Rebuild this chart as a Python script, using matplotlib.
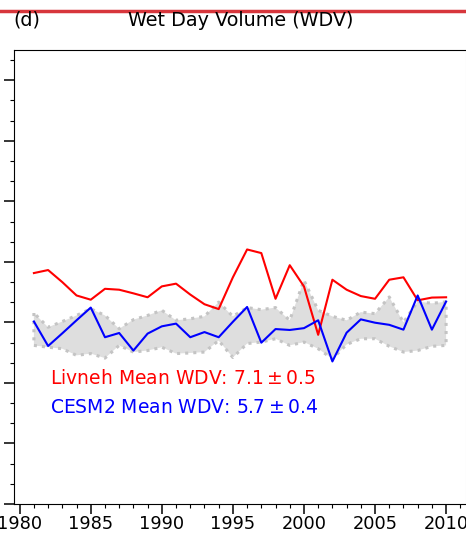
import matplotlib
matplotlib.use("Agg")
import matplotlib.pyplot as plt
from matplotlib.lines import Line2D
from matplotlib.ticker import AutoMinorLocator, MultipleLocator

years = list(range(1981, 2011))

livneh_wdv = [7.63, 7.73, 7.33, 6.89, 6.75, 7.11, 7.08, 6.96, 6.83, 7.19,
              7.28, 6.92, 6.60, 6.44, 7.49, 8.41, 8.29, 6.78, 7.89, 7.19,
              5.59, 7.41, 7.08, 6.87, 6.78, 7.41, 7.49, 6.73, 6.82, 6.83]

cesm2_wdv = [6.03, 5.22, 5.64, 6.07, 6.49, 5.51, 5.65, 5.07, 5.63, 5.87,
             5.96, 5.51, 5.68, 5.51, 6.02, 6.51, 5.33, 5.78, 5.75, 5.81,
             6.07, 4.71, 5.66, 6.10, 5.99, 5.92, 5.76, 6.89, 5.76, 6.69]

# ensemble spread of CESM2
spread_high = [6.31, 5.84, 6.03, 6.23, 6.45, 6.23, 5.79, 6.09, 6.23, 6.40,
               6.07, 6.12, 6.20, 6.67, 6.20, 6.49, 6.42, 6.49, 6.07, 7.39,
               6.40, 6.20, 6.07, 6.34, 6.29, 6.84, 6.00, 6.69, 6.63, 6.68]
spread_low = [5.24, 5.18, 5.13, 4.91, 4.97, 4.82, 5.24, 5.02, 5.07, 5.18,
              4.97, 4.99, 5.02, 5.40, 4.84, 5.30, 5.35, 5.46, 5.24, 5.35,
              5.13, 4.80, 5.27, 5.46, 5.46, 5.21, 5.02, 5.07, 5.21, 5.24]

livneh_label = r"Livneh Mean WDV: $7.1 \pm 0.5$"
cesm2_label = r"CESM2 Mean WDV: $5.7 \pm 0.4$"

fig = plt.figure(figsize=(4.66, 5.40), dpi=100)
ax = fig.add_axes([14 / 466, 36 / 540, 452 / 466, 454 / 540])

ax.fill_between(years, spread_low, spread_high, facecolor="#dedede",
                edgecolor="#c4c4c4", linestyle=":", linewidth=2.2, zorder=1)
ax.plot(years, livneh_wdv, color="red", lw=1.5, zorder=3)
ax.plot(years, cesm2_wdv, color="blue", lw=1.5, zorder=3)

ax.set_xlim(1979.6, 2011.4)
ax.set_ylim(0, 15)
ax.xaxis.set_major_locator(MultipleLocator(5))
ax.xaxis.set_minor_locator(MultipleLocator(1))
ax.yaxis.set_major_locator(MultipleLocator(2))
ax.yaxis.set_minor_locator(AutoMinorLocator(3))
ax.tick_params(which="major", length=7.2, width=1.1, labelsize=12.8, pad=1)
ax.tick_params(which="minor", length=3, width=0.8)
ax.tick_params(axis="y", labelleft=False)
ax.spines["right"].set_color("#e6e6e6")

text_x = (50 - 14) / 452
ax.text(text_x, (504 - 384) / 454, livneh_label,
        color="red", fontsize=13.5, transform=ax.transAxes, va="baseline")
ax.text(text_x, (504 - 413) / 454, cesm2_label,
        color="blue", fontsize=13.5, transform=ax.transAxes, va="baseline")

fig.text(13 / 466, 1 - 25.5 / 540, "(d)", fontsize=13.8, va="baseline", ha="left")
fig.text(241 / 466, 1 - 25.5 / 540, "Wet Day Volume (WDV)", fontsize=13.8,
         va="baseline", ha="center")
fig.add_artist(Line2D([0, 1], [1 - 11 / 540, 1 - 11 / 540], color="#d7363c",
                      lw=2.5, transform=fig.transFigure))

fig.savefig("out.png", dpi=100)
